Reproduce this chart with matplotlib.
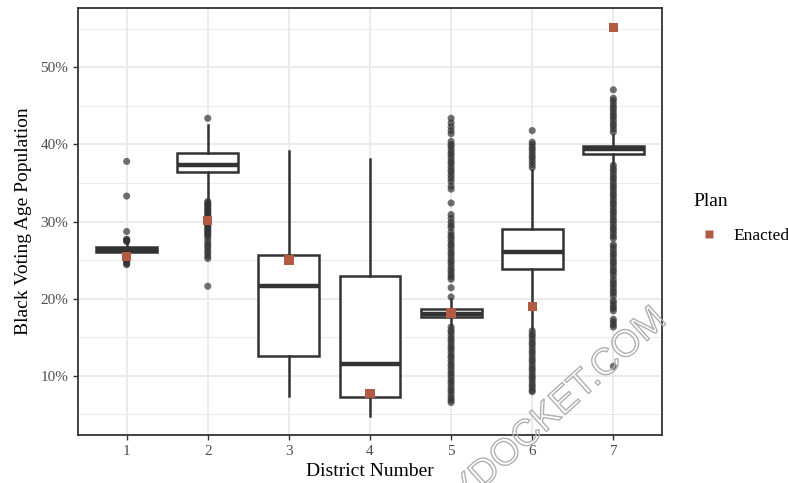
import numpy as np
import matplotlib
matplotlib.use("Agg")
import matplotlib.pyplot as plt
import matplotlib.patheffects as pe
from matplotlib.lines import Line2D

plt.rcParams['font.family'] = ['Liberation Serif', 'DejaVu Serif']

# ---------------- data ----------------
districts = [1, 2, 3, 4, 5, 6, 7]
tick_labels = ["1", "2", "3", "4", "5", "6", "7"]

# box statistics (percent)
whis_lo = [25.2, 32.7, 7.4, 4.8, 16.4, 16.0, 37.5]
q1 = [26.05, 36.4, 12.5, 7.2, 17.6, 23.8, 38.8]
median = [26.35, 37.4, 21.6, 11.55, 17.95, 26.1, 39.4]
q3 = [26.65, 38.9, 25.65, 22.9, 18.6, 29.0, 39.8]
whis_hi = [27.3, 42.5, 39.1, 38.1, 20.0, 36.7, 41.2]

# outliers (percent)
out_1 = [37.8, 33.3, 28.7, 27.7, 27.6, 27.5, 27.4, 25.1, 24.9, 24.7, 24.5, 24.4]
out_2 = [43.4, 32.6, 32.4, 32.2, 32.0, 31.8, 31.6, 31.4, 31.2, 31.0, 30.8, 30.6,
         30.4, 30.2, 30.0, 29.8, 29.6, 29.4, 29.2, 29.0, 28.8, 28.6, 28.4, 28.2,
         28.0, 27.6, 27.2, 26.9, 26.6, 26.2, 25.9, 25.5, 25.2, 21.6]
out_3 = []
out_4 = []
out_5 = [43.4, 42.8, 42.3, 41.8, 41.4, 40.4, 40.0, 39.7, 39.3, 38.9, 38.6, 38.2,
         37.8, 37.5, 37.1, 36.7, 36.4, 36.0, 35.6, 35.2, 34.6, 34.2, 32.4, 30.9,
         30.4, 29.9, 29.5, 29.2, 28.6, 28.2, 27.9, 27.5, 27.1, 26.8, 26.4, 26.0,
         25.7, 25.3, 24.9, 24.6, 24.2, 23.8, 23.5, 23.1, 22.8, 22.5, 21.4, 20.2,
         16.3, 15.9, 15.6, 15.2, 14.8, 14.5, 14.1, 13.7, 13.4, 13.0, 12.6, 12.3,
         11.9, 11.5, 11.2, 10.8, 10.4, 10.1, 9.7, 9.3, 9.0, 8.6, 8.2, 7.9, 7.5,
         7.1, 6.8, 6.5]
out_6 = [41.8, 40.3, 40.0, 39.6, 39.3, 38.9, 38.5, 38.2, 37.8, 37.4, 37.0,
         15.8, 15.4, 15.1, 14.7, 14.3, 14.0, 13.6, 13.2, 12.9, 12.5, 12.1, 11.8,
         11.4, 11.0, 10.7, 10.3, 9.9, 9.6, 9.2, 8.8, 8.5, 8.1, 7.9]
out_7 = [47.1, 46.0, 45.7, 45.3, 44.9, 44.6, 44.2, 43.8, 43.5, 43.1, 42.7, 42.4,
         42.0, 41.6,
         37.3, 36.9, 36.6, 36.2, 35.8, 35.5, 35.1, 34.7, 34.4, 34.0, 33.6, 33.3,
         32.9, 32.5, 32.2, 31.8, 31.4, 31.1, 30.7, 30.3, 30.0, 29.6, 29.2, 28.9,
         28.5, 28.1, 27.8, 27.0, 26.7, 26.3, 25.9, 25.6, 25.2, 24.8, 24.5, 24.1,
         23.7, 23.4, 23.0, 22.5, 22.1, 21.8, 21.4, 21.0, 20.7, 20.3, 19.7, 19.4,
         19.0, 18.7, 18.4, 17.3, 17.0, 16.6, 16.3, 11.2]
outliers = [out_1, out_2, out_3, out_4, out_5, out_6, out_7]

# enacted plan values
enacted = [25.5, 30.1, 25.0, 7.7, 18.1, 19.0, 55.2]

y_ticks = [10, 20, 30, 40, 50]
y_tick_labels = ["10%", "20%", "30%", "40%", "50%"]
y_minor = [5, 15, 25, 35, 45, 55]

# ---------------- figure ----------------
DARK = '#333333'
RED = '#B35A43'
GRID = '#EBEBEB'

fig = plt.figure(figsize=(7.88, 4.83), dpi=100)
ax = fig.add_axes([78 / 788, 1 - 435 / 483, (662 - 78) / 788, (435 - 8) / 483])

stats = []
for i in range(len(districts)):
    stats.append(dict(whislo=whis_lo[i], q1=q1[i], med=median[i], q3=q3[i],
                      whishi=whis_hi[i], fliers=[]))
ax.bxp(stats, positions=districts, widths=0.75, showfliers=False, showcaps=False,
       patch_artist=True,
       boxprops=dict(facecolor='white', edgecolor=DARK, linewidth=1.8),
       medianprops=dict(color=DARK, linewidth=3.2, solid_capstyle='butt'),
       whiskerprops=dict(color=DARK, linewidth=1.8),
       zorder=3)

for d, vals in zip(districts, outliers):
    if vals:
        ax.scatter(np.full(len(vals), d), vals, s=26, color=DARK, alpha=0.7,
                   edgecolors='none', zorder=4)

ax.scatter(districts, enacted, marker='s', s=45, color=RED, edgecolors='none',
           zorder=6, label='Enacted')

# scales
all_vals = whis_lo + whis_hi + enacted + [v for o in outliers for v in o]
lo, hi = min(all_vals), max(all_vals)
span = hi - lo
ax.set_ylim(lo - 0.05 * span, hi + 0.05 * span)
ax.set_xlim(0.4, 7.6)

ax.set_xticks(districts)
ax.set_xticklabels(tick_labels)
ax.set_yticks(y_ticks)
ax.set_yticklabels(y_tick_labels)
ax.set_yticks(y_minor, minor=True)
ax.tick_params(axis='y', which='minor', length=0)

ax.grid(True, which='major', color=GRID, linewidth=1.4, zorder=0)
ax.grid(True, which='minor', axis='y', color=GRID, linewidth=0.7, zorder=0)
ax.set_axisbelow(True)

for s in ax.spines.values():
    s.set_color(DARK)
    s.set_linewidth(1.3)

ax.tick_params(axis='both', which='major', length=3.5, width=1.0, color=DARK,
               labelcolor='#4D4D4D', labelsize=11, pad=3.5)

ax.set_xlabel('District Number', fontsize=14, labelpad=4)
ax.set_ylabel('Black Voting Age Population', fontsize=14, labelpad=6)

# legend (title + key placed like the reference)
fig.text(693 / 788, 1 - 202 / 483, 'Plan', fontsize=14, ha='left', va='center')
handle = Line2D([], [], marker='s', linestyle='none', markersize=5.8,
                markerfacecolor=RED, markeredgecolor='none')
leg = fig.legend([handle], ['Enacted'], loc='center left',
                 bbox_to_anchor=(702 / 788, 1 - 236 / 483), frameon=False,
                 fontsize=12.5, handletextpad=1.0, handlelength=0.8, borderpad=0,
                 borderaxespad=0)

# watermark
fig.text(668 / 788, 1 - 322 / 483, 'DEMOCRACYDOCKET.COM', fontsize=27,
         family=['Liberation Sans', 'DejaVu Sans'], rotation=42,
         rotation_mode='anchor', ha='right', va='baseline', color=(1, 1, 1, 0),
         path_effects=[pe.Stroke(linewidth=1.0, foreground='#B0B0B0')], zorder=20)

fig.savefig('out.png', dpi=100)
